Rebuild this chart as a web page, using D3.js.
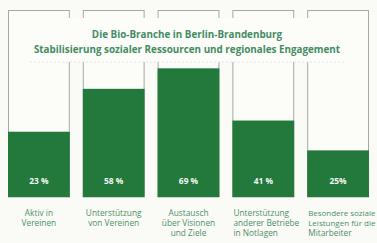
<!DOCTYPE html>
<html>
<head>
<meta charset="utf-8">
<script src="https://cdn.jsdelivr.net/npm/d3@7"></script>
<style>
  body { margin: 0; background: #fafaf6; }
  svg { display: block; font-family: "Open Sans", "Noto Sans", sans-serif; }
</style>
</head>
<body>
<div class="container"></div>
<script>
// DATA
const categories = ["Aktiv in Vereinen", "Unterstützung von Vereinen", "Austausch über Visionen und Ziele", "Unterstützung anderer Betriebe in Notlagen", "Besondere soziale Leistungen für die Mitarbeiter"];
// label lines as printed under each column
const categoryLines = [
  ["Aktiv in", "Vereinen"],
  ["Unterstützung", "von Vereinen"],
  ["Austausch", "über Visionen", "und Ziele"],
  ["Unterstützung", "anderer Betriebe", "in Notlagen"],
  ["Besondere soziale", "Leistungen für die", "Mitarbeiter"]
];
// bar heights as drawn (percent of the outlined column)
const barValues = [35, 58, 69, 41, 25];
// value labels as printed inside the bars
const valueLabels = ["23 %", "58 %", "69 %", "41 %", "25%"];
const titleLines = ["Die Bio-Branche in Berlin-Brandenburg", "Stabilisierung sozialer Ressourcen und regionales Engagement"];

// SETUP
const width = 377, height = 243;
const green = "#23793b";
const textGreen = "#4b9165";

const svg = d3.select("div.container")
  .append("svg")
  .attr("width", width)
  .attr("height", height);

const x = d3.scaleBand()
  .domain(categories)
  .range([8.5, 368.5])
  .paddingInner(0.187)
  .paddingOuter(0);

const y = d3.scaleLinear()
  .domain([0, 100])
  .range([197, 10.5]);

// outlined columns (full 100%)
svg.selectAll("rect.frame")
  .data(categories)
  .enter()
  .append("rect")
  .attr("class", "frame")
  .attr("x", d => x(d))
  .attr("y", y(100))
  .attr("width", x.bandwidth())
  .attr("height", y(0) - y(100))
  .attr("fill", "#fcfcf9")
  .attr("stroke", "#a3aaa4")
  .attr("stroke-width", 1);

// bars
svg.selectAll("rect.bar")
  .data(categories)
  .enter()
  .append("rect")
  .attr("class", "bar")
  .attr("x", d => x(d) - 0.5)
  .attr("y", (d, i) => y(barValues[i]))
  .attr("width", x.bandwidth() + 1)
  .attr("height", (d, i) => y(0) - y(barValues[i]))
  .attr("fill", green);

// value labels inside the bars
svg.selectAll("text.value")
  .data(categories)
  .enter()
  .append("text")
  .attr("class", "value")
  .attr("x", d => x(d) + x.bandwidth() / 2)
  .attr("y", 184)
  .attr("text-anchor", "middle")
  .attr("fill", "#f2f7f2")
  .style("font-size", "8.4px")
  .style("font-weight", "bold")
  .text((d, i) => valueLabels[i]);

// title box, covering the top part of the columns
svg.append("rect")
  .attr("x", 20)
  .attr("y", 18)
  .attr("width", 337)
  .attr("height", 44)
  .attr("fill", "#fcfcf9");

svg.append("line")
  .attr("x1", 30).attr("x2", 345)
  .attr("y1", 62).attr("y2", 62)
  .attr("stroke", "#e4e6e2")
  .attr("stroke-dasharray", "2,2");

svg.selectAll("text.title")
  .data(titleLines)
  .enter()
  .append("text")
  .attr("class", "title")
  .attr("x", 187)
  .attr("y", (d, i) => 38 + i * 14.5)
  .attr("text-anchor", "middle")
  .attr("fill", "#448c63")
  .style("font-size", "9.85px")
  .style("font-weight", "bold")
  .text(d => d);

// category labels
const labels = svg.selectAll("g.cat")
  .data(categories)
  .enter()
  .append("g")
  .attr("class", "cat");

labels.each(function(d, i) {
  const wide = i >= 3;
  d3.select(this)
    .selectAll("text")
    .data(categoryLines[i])
    .enter()
    .append("text")
    .attr("x", wide ? x(d) + 0.5 : x(d) + x.bandwidth() / 2)
    .attr("y", (t, j) => 215.5 + j * 10)
    .attr("text-anchor", wide ? "start" : "middle")
    .attr("fill", textGreen)
    .style("font-size", "8.3px")
    .text(t => t)
    // shrink a line a little if it would run past the right edge
    .each(function() {
      const el = d3.select(this);
      const left = +el.attr("x");
      const len = this.getComputedTextLength();
      if (wide && left + len > width - 1.5) {
        el.style("font-size", (8.3 * (width - 1.5 - left) / len).toFixed(2) + "px");
      }
    });
});
</script>
</body>
</html>
